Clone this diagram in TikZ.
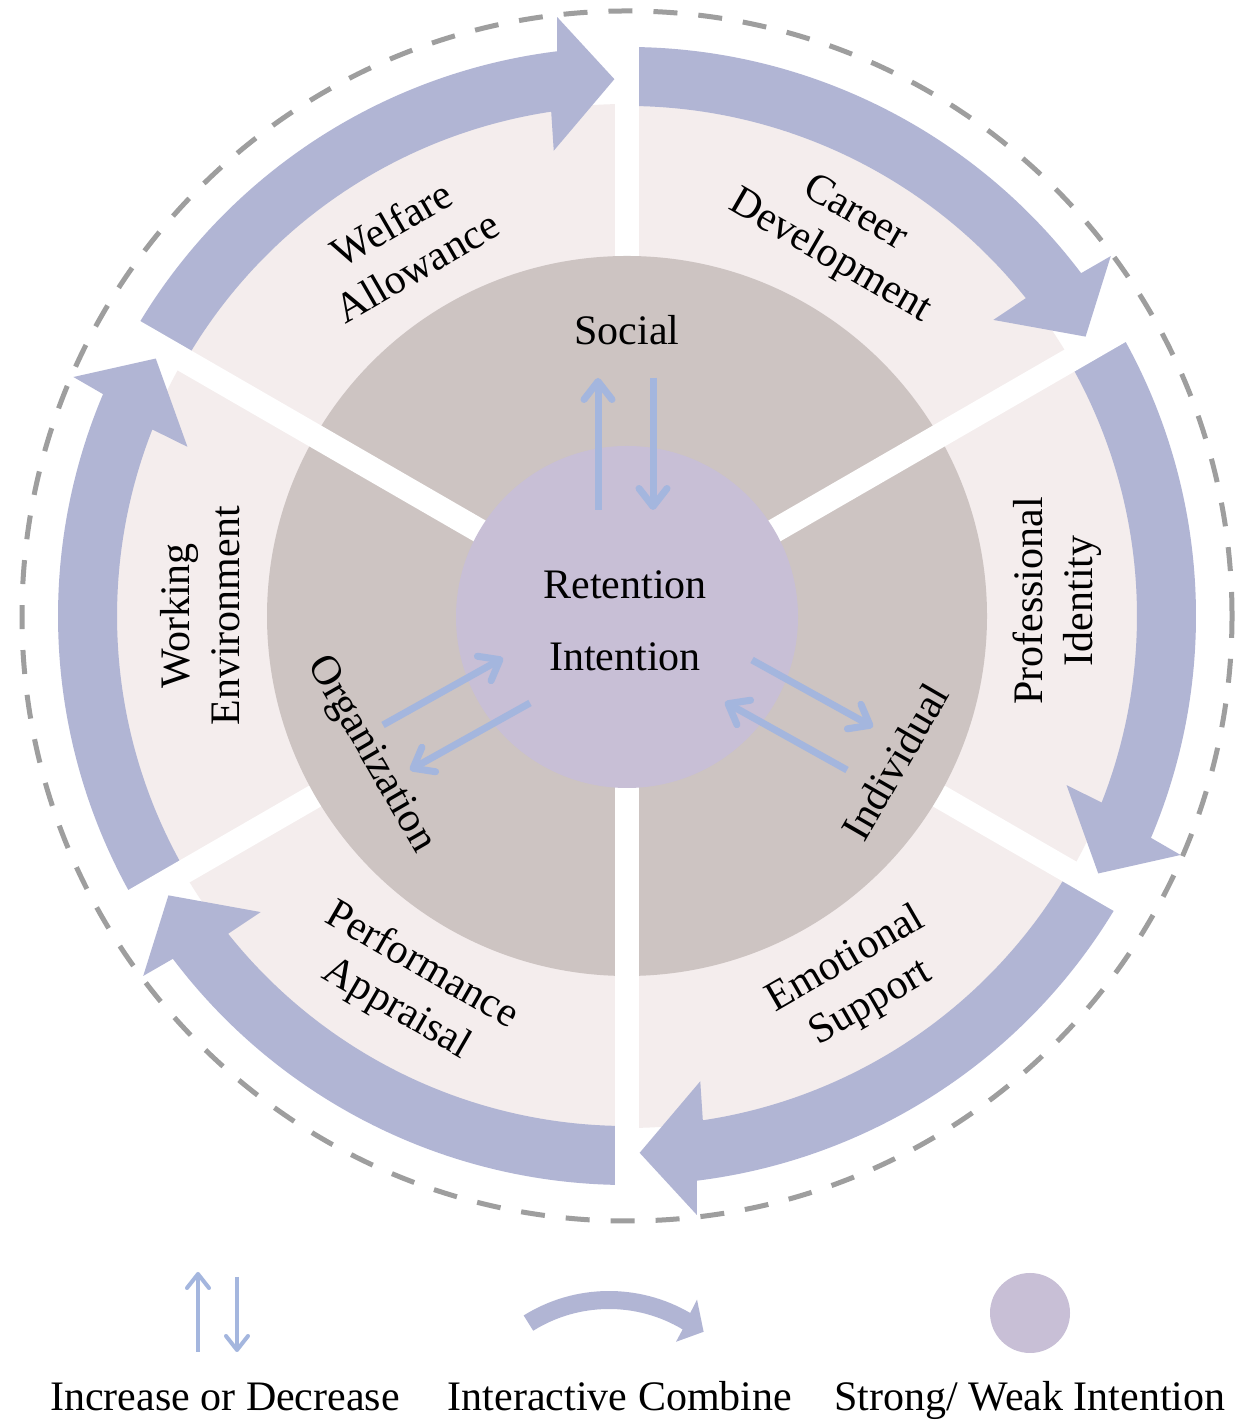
\documentclass[tikz,border=0pt]{standalone}
\usepackage{fontspec}
\setmainfont{Liberation Serif}
\usetikzlibrary{arrows.meta}
\definecolor{bandc}{RGB}{177,181,212}
\definecolor{pinkc}{RGB}{244,237,237}
\definecolor{brownc}{RGB}{205,196,194}
\definecolor{innerc}{RGB}{200,191,214}
\definecolor{arrc}{RGB}{164,182,222}
\definecolor{dashc}{RGB}{158,158,158}
\newcommand{\bandarrow}[2]{%
  \fill[bandc] (#1:569) arc[start angle=#1, end angle=#2+5.7, radius=569]
    -- (#2+5.3:603) -- (#2:537) -- (#2+7.6:471) -- (#2+7.2:510)
    arc[start angle=#2+7.2, end angle=#1, radius=510] -- cycle;}
\begin{document}
\begin{tikzpicture}[x=0.5pt,y=0.5pt,
  lab/.style={font=\fontsize{21}{25}\selectfont, align=center, inner sep=0pt},
  gapbar/.style={fill=white},
  smallarr/.style={draw=arrc, line width=3.5pt, -{Straight Barb[length=9pt,width=14pt,round]}},
  legarr/.style={draw=arrc, line width=2pt, -{Straight Barb[length=7pt,width=11pt,round]}}]
\useasboundingbox (0,0) rectangle (1248,1427);
\fill[white] (0,0) rectangle (1248,1427);
\begin{scope}[shift={(627,811)}]
  \fill[pinkc] (0,0) circle[radius=512];
  \bandarrow{150}{91.35}
  \bandarrow{90}{31.35}
  \bandarrow{30}{-28.65}
  \bandarrow{-30}{-88.65}
  \bandarrow{-90}{-148.65}
  \bandarrow{210}{151.35}
  \foreach \g in {90,-30,210} \fill[gapbar, rotate=\g] (0,-12) rectangle (580,12);
  \fill[brownc] (0,0) circle[radius=360];
  \foreach \g in {30,150,270} \fill[gapbar, rotate=\g] (0,-12) rectangle (580,12);
  \fill[innerc] (0,-1) circle[radius=171];
  \draw[dashc, line width=2.5pt, dash pattern=on 12pt off 10.5pt] (0,0) circle[radius=605];
  \node[lab, rotate=30]  (welfare) at (121:433)   {Welfare\\Allowance};
  \node[lab, rotate=-30] (career)  at (60.5:437)  {Career\\Development};
  \node[lab, rotate=90]  (prof)    at (2:430)     {Professional\\Identity};
  \node[lab, rotate=30]  (emo)     at (-57.7:433) {Emotional\\Support};
  \node[lab, rotate=-30] (perf)    at (239.6:431) {Performance\\Appraisal};
  \node[lab, rotate=90]  (work)    at (180:427)   {Working\\Environment};
  \node[lab] (social) at (90:286) {Social};
  \node[lab, rotate=-60] (org) at (208.4:292) {Organization};
  \node[lab, rotate=60]  (ind) at (-28.6:305) {Individual};
  \node[lab] (ret) at (-2,31) {Retention};
  \node[lab] (intn) at (-2,-41) {Intention};
\end{scope}
% central small arrows
\coordinate (u1) at (598,917);  \coordinate (u2) at (598,1049);
\coordinate (d1) at (653,1049); \coordinate (d2) at (653,917);
\coordinate (l1) at (383,702);  \coordinate (l2) at (503,769);
\coordinate (l3) at (530,724);  \coordinate (l4) at (410,657);
\coordinate (r1) at (752,767);  \coordinate (r2) at (873,700);
\coordinate (r3) at (847,657);  \coordinate (r4) at (725,725);
\draw[smallarr] (u1) -- (u2);
\draw[smallarr] (d1) -- (d2);
\draw[smallarr] (l1) -- (l2);
\draw[smallarr] (l3) -- (l4);
\draw[smallarr] (r1) -- (r2);
\draw[smallarr] (r3) -- (r4);
% legend
\coordinate (lu1) at (198,75);  \coordinate (lu2) at (198,155);
\coordinate (ld1) at (237,150); \coordinate (ld2) at (237,75);
\draw[legarr] (lu1) -- (lu2);
\draw[legarr] (ld1) -- (ld2);
\begin{scope}[shift={(609,-25)}]
  \fill[bandc] (122:161) arc[start angle=122, end angle=59.7, radius=161]
    -- (60:176) -- (51.8:153) -- (58.7:129) -- (59:143)
    arc[start angle=59, end angle=122, radius=143] -- cycle;
\end{scope}
\node[circle, fill=innerc, minimum size=40pt, inner sep=0pt] (legcirc) at (1030,114) {};
\node[lab, anchor=base] (leg1) at (225,17) {Increase or Decrease};
\node[lab, anchor=base] (leg2) at (620,17) {Interactive Combine};
\node[lab, anchor=base] (leg3) at (1030,17) {Strong/ Weak Intention};
\end{tikzpicture}
\end{document}
